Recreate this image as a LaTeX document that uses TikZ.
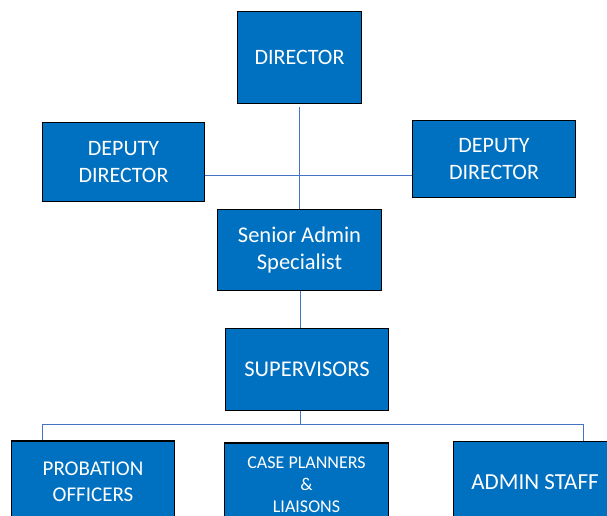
\documentclass[tikz,border=0pt]{standalone}
\usepackage{fontspec}
\setmainfont{Carlito}
\definecolor{boxblue}{RGB}{0,112,192}
\definecolor{linkblue}{RGB}{68,114,196}
\tikzset{
  box/.style={draw=black, line width=1.6pt, fill=boxblue, text=white, align=center, inner sep=2pt},
  link/.style={draw=linkblue, line width=1pt}
}
\begin{document}
\begin{tikzpicture}[x=1pt,y=-1pt]
    \useasboundingbox (0,0) rectangle (607,516);
    \node[box, minimum width=124pt, minimum height=92pt, font=\fontsize{22}{27}\selectfont] (dir) at (299.5,57.5) {DIRECTOR};
    \node[box, minimum width=162pt, minimum height=79pt, font=\fontsize{22}{27}\selectfont] (depL) at (123.5,162) {DEPUTY\\DIRECTOR};
    \node[box, minimum width=163pt, minimum height=77pt, font=\fontsize{22}{27}\selectfont] (depR) at (494,159) {DEPUTY\\DIRECTOR};
    \node[box, minimum width=164pt, minimum height=81pt, font=\fontsize{22.5}{27}\selectfont] (senior) at (299.5,250) {Senior Admin\\Specialist};
    \node[box, minimum width=163pt, minimum height=82pt, font=\fontsize{22.5}{27}\selectfont] (sup) at (307,369.5) {SUPERVISORS};
    \node[box, minimum width=163pt, minimum height=81pt, font=\fontsize{21}{26}\selectfont] (prob) at (93,481.5) {PROBATION\\OFFICERS};
    \node[box, minimum width=164pt, minimum height=84pt, font=\fontsize{18}{22}\selectfont] (case) at (306.5,485) {CASE PLANNERS\\\&\\LIAISONS};
    \node[box, minimum width=163pt, minimum height=81pt, font=\fontsize{23}{27}\selectfont] (admin) at (535,482) {ADMIN STAFF};
    \coordinate (deps) at (299.5,175);
    \coordinate (spine) at (300,424);
    \coordinate (busL) at (42,424);
    \coordinate (busR) at (583,424);
    \draw[link] ([yshift=-3pt]dir.south) -- (senior.north);
    \draw[link] (depL.east |- deps) -- (depR.west |- deps);
    \draw[link] (senior.south -| spine) -- (sup.north -| spine);
    \draw[link] (sup.south -| spine) -- (spine);
    \draw[link] (busL |- prob.north) -- (busL) -- (busR) -- (busR |- admin.north);
\end{tikzpicture}
\end{document}
